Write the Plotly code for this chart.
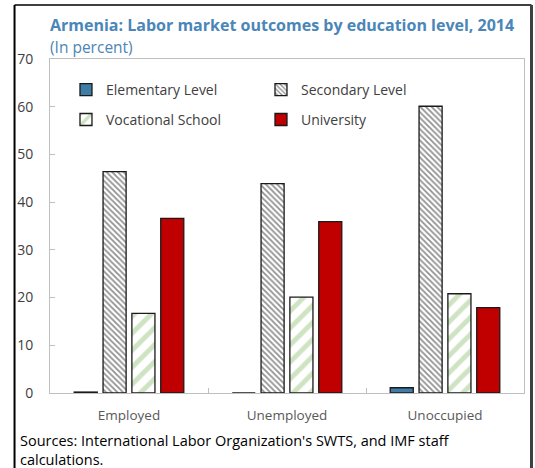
import plotly.graph_objects as go

categories = ["Employed", "Unemployed", "Unoccupied"]
elementary = [0.2, 0.0, 1.1]
secondary = [46.4, 43.9, 60.1]
vocational = [16.7, 20.1, 20.8]
university = [36.6, 35.9, 17.9]
y_ticks = [0, 10, 20, 30, 40, 50, 60, 70]

FONT = "Open Sans"
PW, PH = 474.5, 334.5
fig = go.Figure()
fig.add_bar(name="Elementary Level", x=categories, y=elementary, legend="legend",
            marker=dict(color="#3E7DA6", line=dict(color="#1a1a1a", width=1.3)))
fig.add_bar(name="Secondary Level", x=categories, y=secondary, legend="legend",
            marker=dict(color="white", line=dict(color="#1a1a1a", width=1.3),
                        pattern=dict(shape="\\", fgcolor="#222222", bgcolor="white",
                                     size=4, solidity=0.45)))
fig.add_bar(name="Vocational School", x=categories, y=vocational, legend="legend2",
            marker=dict(color="white", line=dict(color="#1a1a1a", width=1.3),
                        pattern=dict(shape="/", fgcolor="#9CC783", bgcolor="white",
                                     size=12, solidity=0.4)))
fig.add_bar(name="University", x=categories, y=university, legend="legend2",
            marker=dict(color="#C00000", line=dict(color="#1a1a1a", width=1.3)))

leg_common = dict(orientation="h", xanchor="left", yanchor="middle",
                  entrywidth=150, font=dict(size=14, color="#404040", family=FONT),
                  bgcolor="rgba(0,0,0,0)")
fig.update_layout(
    width=535, height=468,
    margin=dict(l=49.5, r=11, t=59, b=74.5),
    paper_bgcolor="white", plot_bgcolor="white",
    font=dict(family=FONT, color="#404040", size=13),
    barmode="group", bargap=0.27, bargroupgap=0.2,
    showlegend=True,
    legend=dict(x=16/PW, y=1 - 31/PH, **leg_common),
    legend2=dict(x=16/PW, y=1 - 61/PH, **leg_common),
    xaxis=dict(showline=True, linecolor="#BFBFBF", linewidth=1, mirror=True,
               ticks="inside", tickson="boundaries", ticklen=5, tickcolor="#BFBFBF",
               tickfont=dict(size=13.5, color="#595959"), showgrid=False,
               ticklabelstandoff=10),
    yaxis=dict(range=[0, 70], tickvals=y_ticks, showline=True, linecolor="#BFBFBF",
               linewidth=1, mirror=True, ticks="inside", ticklen=5, tickcolor="#BFBFBF",
               showgrid=False, zeroline=False, tickfont=dict(size=14, color="#404040"),
               ticklabelstandoff=13),
)

fig.add_annotation(text="<b>Armenia: Labor market outcomes by education level, 2014</b>",
                   xref="paper", yref="paper", x=0, y=1, xshift=-2, yshift=34,
                   xanchor="left", yanchor="middle", showarrow=False,
                   font=dict(size=16, color="#4A86B8", family=FONT))
fig.add_annotation(text="(In percent)", xref="paper", yref="paper", x=0, y=1, xshift=-2,
                   yshift=12, xanchor="left", yanchor="middle", showarrow=False,
                   font=dict(size=15.5, color="#4A86B8", family=FONT))
fig.add_annotation(text="Sources: International Labor Organization's SWTS, and IMF staff<br>calculations.",
                   xref="paper", yref="paper", x=0, y=0, xshift=-32, yshift=-36,
                   xanchor="left", yanchor="top", align="left", showarrow=False,
                   font=dict(size=14.5, color="#000000", family=FONT))

# outer frame
fig.add_shape(type="line", xref="paper", yref="paper", x0=-35.5/PW, x1=-35.5/PW,
              y0=1 + 54/PH, y1=-80/PH, line=dict(color="#000000", width=2))
fig.add_shape(type="line", xref="paper", yref="paper", x0=-35.5/PW, x1=1 + 7.5/PW,
              y0=1 + 54/PH, y1=1 + 54/PH, line=dict(color="#000000", width=1.5))
fig.add_shape(type="line", xref="paper", yref="paper", x0=1 + 7.5/PW, x1=1 + 7.5/PW,
              y0=1 + 54/PH, y1=-80/PH, line=dict(color="#404040", width=3))

fig.write_html("out.html", config={"displayModeBar": False},
               post_script="document.body.style.margin='0';")
